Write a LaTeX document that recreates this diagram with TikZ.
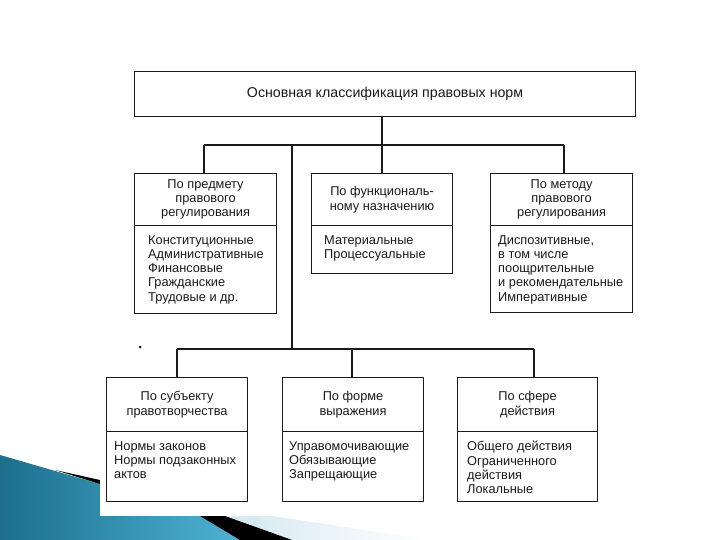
\documentclass[tikz,border=0pt]{standalone}
\usepackage{fontspec}
\setmainfont{Liberation Sans}
\definecolor{teal1}{HTML}{1B6F8C}
\definecolor{teal2}{HTML}{4FB3D4}
\definecolor{pale}{HTML}{CDE5EE}
\definecolor{ink}{HTML}{1A1A1A}
\begin{document}
\begin{tikzpicture}[x=1pt,y=-1pt,
  box/.style={draw=ink, line width=1.1pt, rectangle, inner sep=0pt, anchor=north west},
  conn/.style={draw=ink, line width=1.1pt},
  hdr/.style={align=center, font=\fontsize{12.8}{14.3}\selectfont, inner sep=0pt, text=ink},
  itm/.style={align=left, font=\fontsize{12.8}{14.3}\selectfont, inner sep=0pt, anchor=north west, text=ink}]
\useasboundingbox (0,0) rectangle (720,540);
% slide decoration
\shade[left color=teal1, right color=teal2] (0,455) -- (100,484) -- (200,516) -- (240,540) -- (0,540) -- cycle;
\shade[left color=pale, right color=white] (200,505) -- (430,540) -- (290,540) -- cycle;
\fill[black] (55,470) -- (100,480) -- (200,507) -- (292,540) -- (240,540) -- (200,516) -- (100,484) -- cycle;
\fill[white] (100,40) rectangle (645,516);
% top
\node[box, minimum width=501pt, minimum height=45pt] (top) at (134,71) {};
\node[hdr, font=\fontsize{14.2}{16}\selectfont] (toptxt) at (top.center) {Основная классификация правовых норм};
% row 1
\node[box, minimum width=142pt, minimum height=52pt] (b1h) at (134,173) {};
\node[box, minimum width=142pt, minimum height=88pt] (b1i) at (134,225) {};
\node[box, minimum width=141pt, minimum height=52pt] (b2h) at (311,173) {};
\node[box, minimum width=141pt, minimum height=48pt] (b2i) at (311,225) {};
\node[box, minimum width=142pt, minimum height=52pt] (b3h) at (490,173) {};
\node[box, minimum width=142pt, minimum height=87pt] (b3i) at (490,225) {};
\node[hdr] (t1h) at (b1h.center) {По предмету\\правового\\регулирования};
\node[hdr] (t2h) at (b2h.center) {По функциональ-\\ному назначению};
\node[hdr] (t3h) at (b3h.center) {По методу\\правового\\регулирования};
\node[itm] (t1i) at (148,235) {Конституционные\\Административные\\Финансовые\\Гражданские\\Трудовые и др.};
\node[itm] (t2i) at (324,235) {Материальные\\Процессуальные};
\node[itm] (t3i) at (498,235) {Диспозитивные,\\в том числе\\поощрительные\\и рекомендательные\\Императивные};
% row 2
\node[box, minimum width=141pt, minimum height=54pt] (b4h) at (106,377) {};
\node[box, minimum width=141pt, minimum height=70pt] (b4i) at (106,431) {};
\node[box, minimum width=141pt, minimum height=54pt] (b5h) at (282,377) {};
\node[box, minimum width=141pt, minimum height=70pt] (b5i) at (282,431) {};
\node[box, minimum width=140pt, minimum height=54pt] (b6h) at (457,377) {};
\node[box, minimum width=140pt, minimum height=70pt] (b6i) at (457,431) {};
\node[hdr] (t4h) at (b4h.center) {По субъекту\\правотворчества};
\node[hdr] (t5h) at (b5h.center) {По форме\\выражения};
\node[hdr] (t6h) at (b6h.center) {По сфере\\действия};
\node[itm] (t4i) at (114,441) {Нормы законов\\Нормы подзаконных\\актов};
\node[itm] (t5i) at (289,441) {Управомочивающие\\Обязывающие\\Запрещающие};
\node[itm] (t6i) at (467,441) {Общего действия\\Ограниченного\\действия\\Локальные};
% connectors
\coordinate (j1) at (382,145);
\coordinate (h1l) at (204,145);
\coordinate (h1r) at (564,145);
\coordinate (j2) at (292,145);
\coordinate (k2) at (292,349);
\coordinate (h2l) at (177,349);
\coordinate (h2m) at (352,349);
\coordinate (h2r) at (534,349);
\draw[conn] (top.south -| j1) -- (j1);
\draw[conn] (h1l) -- (h1r);
\draw[conn] (h1l) -- (h1l |- b1h.north);
\draw[conn] (j1) -- (j1 |- b2h.north);
\draw[conn] (h1r) -- (h1r |- b3h.north);
\draw[conn] (j2) -- (k2);
\draw[conn] (h2l) -- (h2r);
\draw[conn] (h2l) -- (h2l |- b4h.north);
\draw[conn] (h2m) -- (h2m |- b5h.north);
\draw[conn] (h2r) -- (h2r |- b6h.north);
\fill[ink] (140,347) circle (1.5pt);
\end{tikzpicture}
\end{document}
